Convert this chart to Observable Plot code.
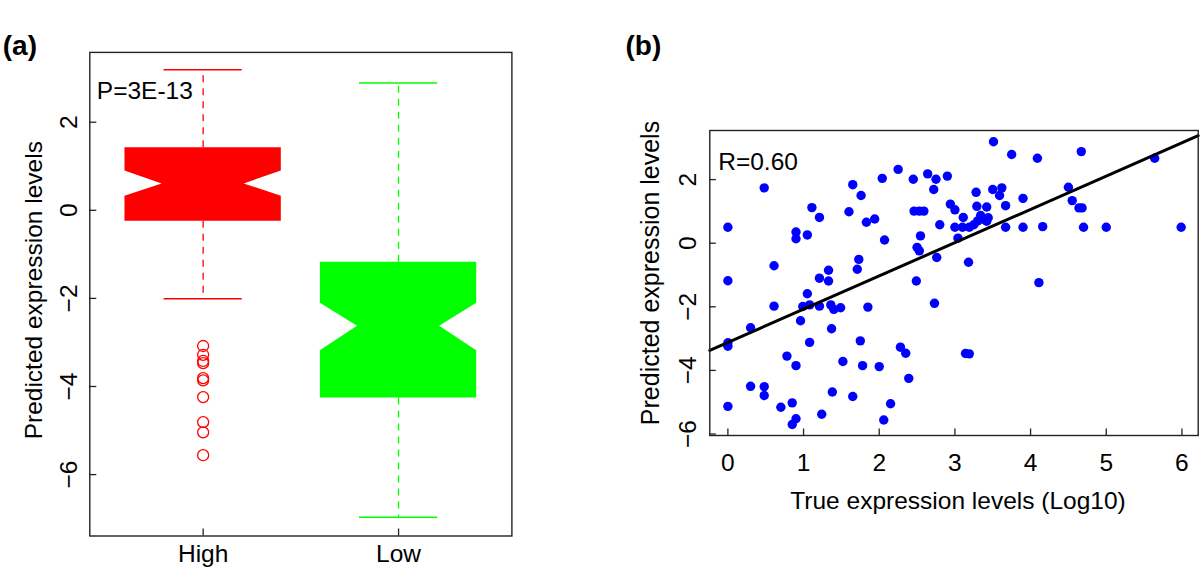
<!DOCTYPE html>
<html>
<head>
<meta charset="utf-8">
<script src="https://cdn.jsdelivr.net/npm/d3@7"></script>
<script src="https://cdn.jsdelivr.net/npm/@observablehq/plot@0.6"></script>
<style>
  html, body { margin: 0; padding: 0; background: #fff; }
  #wrap { position: relative; width: 1200px; height: 573px; background: #fff; overflow: hidden; }
  #pa, #pb { position: absolute; top: 0; }
  #pa { left: 0; }
  #pb { left: 600px; }
</style>
</head>
<body>
<div id="wrap"><div id="pa"></div><div id="pb"></div></div>
<script>
// ---------------- DATA: panel (a) notched box plot ----------------
const groups = ["High", "Low"];
const upperWhisker = [3.19, 2.89];
const q3 = [1.42, -1.18];
const notchHigh = [0.89, -2.11];
const median = [0.60, -2.63];
const notchLow = [0.32, -3.19];
const q1 = [-0.25, -4.26];
const lowerWhisker = [-2.01, -6.97];
const highOutliers = [-3.08, -3.28, -3.42, -3.47, -3.81, -3.86, -4.24, -4.81, -5.04, -5.56];
const pValueLabel = "P=3E-13";
const yTicksA = [-6, -4, -2, 0, 2];
const yTitle = "Predicted expression levels";

// ---------------- DATA: panel (b) scatter ----------------
const trueLevels = [
  0, 0, 0, 0, 0,
  0.30, 0.30,
  0.48, 0.48, 0.48,
  0.61, 0.61,
  0.70, 0.78, 0.85, 0.85,
  0.90, 0.90, 0.90, 0.90,
  0.96, 0.99, 1.05, 1.05, 1.08, 1.08, 1.11,
  1.21, 1.21, 1.21, 1.24,
  1.33, 1.33, 1.36, 1.37, 1.38, 1.40, 1.49, 1.52,
  1.60, 1.65, 1.65, 1.71, 1.73, 1.75, 1.76, 1.78, 1.83, 1.85, 1.94,
  2.00, 2.04, 2.06, 2.07, 2.15, 2.25, 2.28, 2.35, 2.39,
  2.45, 2.46, 2.53, 2.59, 2.49, 2.50, 2.53, 2.545,
  2.64, 2.72, 2.73, 2.75, 2.76, 2.80, 2.90, 2.94,
  3.00, 3.00, 3.04, 3.10, 3.11, 3.14, 3.19, 3.18, 3.19, 3.25,
  3.28, 3.29, 3.30, 3.34, 3.38, 3.42, 3.42, 3.44,
  3.51, 3.50, 3.59, 3.62, 3.67, 3.67, 3.75, 3.90, 3.90,
  4.09, 4.11, 4.16, 4.50, 4.55, 4.64, 4.68, 4.67, 4.70,
  5.00, 5.64, 5.99
];
const predictedLevels = [
  0.50, -1.18, -3.13, -3.24, -5.13,
  -2.66, -4.50,
  1.74, -4.51, -4.79,
  -0.71, -1.98,
  -5.16, -3.55, -5.02, -5.70,
  0.35, 0.14, -3.85, -5.52,
  -2.44, -1.99, 0.26, -1.59, -1.94, -3.12, 1.12,
  0.81, -1.10, -1.98, -5.38,
  -0.85, -1.19, -1.94, -2.69, -4.68, -2.08, -2.03, -3.72,
  0.99, 1.84, -4.82, -0.82, -0.51, -3.07, 1.50, -3.85, 0.66, -2.01, 0.76,
  -3.88, 2.04, -5.56, 0.10, -5.05, 2.32, -3.27, -3.46, -4.25,
  2.01, 1.01, 1.01, 1.01, -1.19, -0.13, -0.24, 0.23,
  2.18, 1.69, -1.89, 2.01, -0.45, 0.58, 2.11, 1.23,
  1.05, 0.50, 0.16, 0.50, 0.81, -3.47, -3.48, -0.60, 0.50, 0.58,
  1.60, 1.16, 0.70, 0.87, 0.75, 1.14, 0.69, 0.80,
  3.19, 1.69, 1.50, 1.74, 1.18, 0.50, 2.79, 1.41, 0.50,
  2.67, -1.24, 0.52, 1.76, 1.34, 1.11, 1.11, 2.88, 0.50,
  0.50, 2.67, 0.50
];
const fitIntercept = -3.12;
const fitSlope = 1.046;
const rLabel = "R=0.60";
const xTicksB = [0, 1, 2, 3, 4, 5, 6];
const yTicksB = [-6, -4, -2, 0, 2];
const xTitleB = "True expression levels (Log10)";

// ---------------- rendering ----------------
const FONT = '"Liberation Sans", Arial, Helvetica, sans-serif';
const FS = 24.5;
const FS_PANEL = 28;
const H = 573;
const fmt = (v) => (v < 0 ? "\u2212" + Math.abs(v) : String(v));
const palette = {High: "#ff0000", Low: "#00ff00"};

// ---- panel (a)
(function () {
  const W = 600;
  const m = {left: 89.3, right: 88.6, top: 51.9, bottom: 37.5};
  const xDom = [0.42, 2.58], yDom = [-7.394, 3.585];
  const ky = (H - m.top - m.bottom) / (yDom[1] - yDom[0]);
  const kx = (W - m.left - m.right) / (xDom[1] - xDom[0]);
  const TICK = 7;
  const BOX_HALF = 0.4, NOTCH_HALF = 0.21, STAPLE_HALF = 0.2;
  const marks = [];
  groups.forEach((g, i) => {
    const c = i + 1, col = palette[g];
    const shape = [
      {y: q1[i], x1: c - BOX_HALF, x2: c + BOX_HALF},
      {y: notchLow[i], x1: c - BOX_HALF, x2: c + BOX_HALF},
      {y: median[i], x1: c - NOTCH_HALF, x2: c + NOTCH_HALF},
      {y: notchHigh[i], x1: c - BOX_HALF, x2: c + BOX_HALF},
      {y: q3[i], x1: c - BOX_HALF, x2: c + BOX_HALF}
    ];
    marks.push(Plot.ruleX([0], {x: () => c, y1: () => q3[i], y2: () => upperWhisker[i], stroke: col, strokeWidth: 1.3, strokeDasharray: "7,6"}));
    marks.push(Plot.ruleX([0], {x: () => c, y1: () => q1[i], y2: () => lowerWhisker[i], stroke: col, strokeWidth: 1.3, strokeDasharray: "7,6"}));
    marks.push(Plot.ruleY([upperWhisker[i], lowerWhisker[i]], {y: (d) => d, x1: () => c - STAPLE_HALF, x2: () => c + STAPLE_HALF, stroke: col, strokeWidth: 1.5}));
    marks.push(Plot.areaX(shape, {y: "y", x1: "x1", x2: "x2", fill: col}));
  });
  marks.push(Plot.dot(highOutliers, {x: () => 1, y: (d) => d, r: 5.5, stroke: palette.High, fill: "none", strokeWidth: 1.3}));
  // frame and inward ticks
  marks.push(Plot.frame({stroke: "#222", strokeWidth: 1.4}));
  marks.push(Plot.ruleY(yTicksA, {y: (d) => d, x1: () => xDom[0], x2: () => xDom[0] + TICK / kx, stroke: "#222", strokeWidth: 1.3}));
  marks.push(Plot.ruleX(groups, {x: (d, i) => i + 1, y1: () => yDom[0], y2: () => yDom[0] + TICK / ky, stroke: "#222", strokeWidth: 1.3}));
  // tick labels
  marks.push(Plot.text(yTicksA, {y: (d) => d, text: fmt, frameAnchor: "left", dx: -12.5, rotate: -90, textAnchor: "middle", lineAnchor: "bottom", fontSize: FS, fill: "#000"}));
  marks.push(Plot.text(groups, {x: (d, i) => i + 1, text: (d) => d, frameAnchor: "bottom", dy: 25.5, lineAnchor: "bottom", fontSize: FS, fill: "#000"}));
  // titles and annotations
  marks.push(Plot.text([yTitle], {text: (d) => d, frameAnchor: "left", dx: -48, dy: -4, rotate: -90, textAnchor: "middle", lineAnchor: "bottom", fontSize: FS, fill: "#000"}));
  marks.push(Plot.text([pValueLabel], {text: (d) => d, frameAnchor: "top-left", dx: 7, dy: 46.8, textAnchor: "start", lineAnchor: "bottom", fontSize: FS, fill: "#000"}));
  marks.push(Plot.text(["(a)"], {text: (d) => d, frameAnchor: "top-left", dx: -87, dy: 2.5, textAnchor: "start", lineAnchor: "bottom", fontSize: FS_PANEL, fontWeight: "bold", fill: "#000"}));
  const svg = Plot.plot({
    width: W, height: H,
    marginLeft: m.left, marginRight: m.right, marginTop: m.top, marginBottom: m.bottom,
    x: {domain: xDom, axis: null},
    y: {domain: yDom, axis: null},
    style: {fontFamily: FONT, background: "#fff", color: "#000", overflow: "visible"},
    marks
  });
  document.getElementById("pa").appendChild(svg);
})();

// ---- panel (b)
(function () {
  const W = 600;
  const m = {left: 109.3, right: 2.3, top: 130, bottom: 138};
  const xDom = [-0.239, 6.215], yDom = [-6.047, 3.544];
  const ky = (H - m.top - m.bottom) / (yDom[1] - yDom[0]);
  const kx = (W - m.left - m.right) / (xDom[1] - xDom[0]);
  const TICK = 6.5;
  const pts = trueLevels.map((x, i) => ({x, y: predictedLevels[i]}));
  const fit = xDom.map((x) => ({x, y: fitIntercept + fitSlope * x}));
  const marks = [
    Plot.dot(pts, {x: "x", y: "y", r: 4.7, fill: "#0000ff", stroke: "none"}),
    Plot.line(fit, {x: "x", y: "y", stroke: "#000", strokeWidth: 3}),
    Plot.frame({stroke: "#222", strokeWidth: 1.4}),
    Plot.ruleY(yTicksB, {y: (d) => d, x1: () => xDom[0], x2: () => xDom[0] + TICK / kx, stroke: "#222", strokeWidth: 1.3}),
    Plot.ruleX(xTicksB, {x: (d) => d, y1: () => yDom[0], y2: () => yDom[0] + TICK / ky, stroke: "#222", strokeWidth: 1.3}),
    Plot.text(yTicksB, {y: (d) => d, text: fmt, frameAnchor: "left", dx: -14.3, rotate: -90, textAnchor: "middle", lineAnchor: "bottom", fontSize: FS, fill: "#000"}),
    Plot.text(xTicksB, {x: (d) => d, text: fmt, frameAnchor: "bottom", dy: 35.7, lineAnchor: "bottom", fontSize: FS, fill: "#000"}),
    Plot.text([xTitleB], {text: (d) => d, frameAnchor: "bottom", dx: 4, dy: 73.2, lineAnchor: "bottom", fontSize: FS, fill: "#000"}),
    Plot.text([yTitle], {text: (d) => d, frameAnchor: "left", dx: -51.3, dy: -10, rotate: -90, textAnchor: "middle", lineAnchor: "bottom", fontSize: 25, fill: "#000"}),
    Plot.text([rLabel], {text: (d) => d, frameAnchor: "top-left", dx: 8.4, dy: 39, textAnchor: "start", lineAnchor: "bottom", fontSize: FS, fill: "#000"}),
    Plot.text(["(b)"], {text: (d) => d, frameAnchor: "top-left", dx: -84.3, dy: -76, textAnchor: "start", lineAnchor: "bottom", fontSize: FS_PANEL, fontWeight: "bold", fill: "#000"})
  ];
  const svg = Plot.plot({
    width: W, height: H,
    marginLeft: m.left, marginRight: m.right, marginTop: m.top, marginBottom: m.bottom,
    x: {domain: xDom, axis: null},
    y: {domain: yDom, axis: null},
    style: {fontFamily: FONT, background: "#fff", color: "#000", overflow: "visible"},
    marks
  });
  document.getElementById("pb").appendChild(svg);
})();
</script>
</body>
</html>
